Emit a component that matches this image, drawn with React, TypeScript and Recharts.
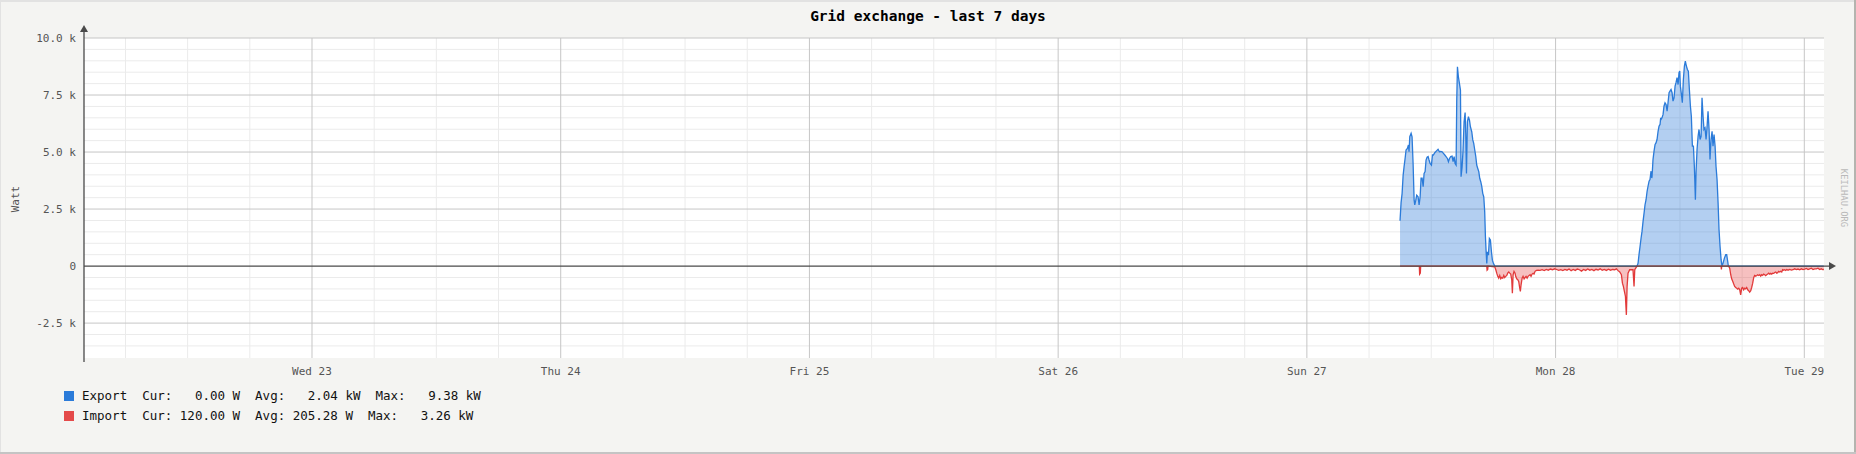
import React from 'react';
import { ComposedChart, Area, XAxis, YAxis, CartesianGrid, ReferenceLine } from 'recharts';

const FONT = '"DejaVu Sans Mono", "Liberation Mono", monospace';
const SUN27 = 120; // hours since Tue 22 00:00
const X_MIN = 2.0;
const X_MAX = 169.9;
const Y_MIN = -4.03;
const Y_MAX = 10;

const dayTicks = [24, 48, 72, 96, 120, 144, 168];
const dayLabels = ['Wed 23', 'Thu 24', 'Fri 25', 'Sat 26', 'Sun 27', 'Mon 28', 'Tue 29'];
const minorHours = [6, 12, 18, 30, 36, 42, 54, 60, 66, 78, 84, 90, 102, 108, 114, 126, 132, 138, 150, 156, 162];
const yTicks = [-2.5, 0, 2.5, 5, 7.5, 10];
const yTickLabels = ['-2.5 k', '0', '2.5 k', '5.0 k', '7.5 k', '10.0 k'];
const yMajorLines = [-2.5, 2.5, 5, 7.5, 10];
const yMinorLines = [-3.5, -3, -2, -1.5, -1, -0.5, 0.5, 1, 1.5, 2, 3, 3.5, 4, 4.5, 5.5, 6, 6.5, 7, 8, 8.5, 9, 9.5];

type Pt = [number, number];

// [hours since Sun 27 00:00, kW]
const exportSunday: Pt[] = [[8.99,1.99],[9.09,2.78],[9.19,3.19],[9.29,3.99],[9.38,4.36],[9.48,4.72],[9.57,5.09],[9.70,5.16],[9.80,5.31],[9.86,5.01],[9.93,5.67],[10.06,5.82],[10.15,5.67],[10.25,4.50],[10.35,2.89],[10.41,2.68],[10.51,2.89],[10.60,3.11],[10.73,3.04],[10.83,2.68],[10.93,3.04],[11.02,3.85],[11.12,3.85],[11.22,3.48],[11.31,4.06],[11.41,4.14],[11.50,4.65],[11.60,4.77],[11.70,4.80],[11.79,4.65],[11.89,4.50],[12.02,4.43],[12.12,4.87],[12.21,4.87],[12.34,4.97],[12.53,5.06],[12.66,5.12],[12.79,5.01],[12.92,5.03],[13.05,5.01],[13.18,4.94],[13.31,4.87],[13.43,4.80],[13.56,4.72],[13.66,4.58],[13.76,4.72],[13.88,4.80],[14.01,4.82],[14.11,4.58],[14.21,4.80],[14.30,4.50],[14.40,4.43],[14.46,7.21],[14.53,8.74],[14.62,8.30],[14.72,8.01],[14.82,7.72],[14.88,3.92],[14.98,4.36],[15.07,5.09],[15.17,6.33],[15.27,6.73],[15.33,5.82],[15.40,4.06],[15.49,6.33],[15.59,6.55],[15.69,6.40],[15.78,6.11],[15.91,5.89],[16.01,5.53],[16.10,5.38],[16.20,5.09],[16.30,4.80],[16.39,4.43],[16.49,4.28],[16.59,4.14],[16.68,3.85],[16.78,3.70],[16.88,3.48],[16.97,3.19],[17.07,3.04],[17.16,2.38],[17.23,1.29],[17.29,0.70],[17.36,0.12],[17.42,0.63],[17.52,0.48],[17.61,1.21],[17.71,1.14],[17.81,0.63],[17.90,0.26],[18.00,0.12],[18.13,0]];

const exportMonday: Pt[] = [[31.86,0],[31.96,0.13],[32.05,0.50],[32.15,0.86],[32.25,1.23],[32.34,1.52],[32.44,1.96],[32.54,2.33],[32.63,2.69],[32.73,2.91],[32.83,3.28],[32.92,3.50],[33.02,3.72],[33.11,3.79],[33.21,4.16],[33.28,3.86],[33.31,3.94],[33.40,4.67],[33.50,5.04],[33.60,5.33],[33.69,5.40],[33.79,5.55],[33.89,5.91],[33.98,6.13],[34.08,6.21],[34.14,6.50],[34.18,6.43],[34.27,6.50],[34.37,6.65],[34.46,7.01],[34.56,7.16],[34.66,7.09],[34.76,6.79],[34.85,7.16],[34.95,7.60],[35.04,7.67],[35.14,7.74],[35.24,7.60],[35.33,7.23],[35.43,7.38],[35.53,7.89],[35.62,8.04],[35.72,8.26],[35.82,7.96],[35.91,8.48],[35.98,8.55],[36.04,7.89],[36.14,7.53],[36.23,7.16],[36.33,8.18],[36.43,8.77],[36.52,8.99],[36.62,8.77],[36.72,8.62],[36.81,8.55],[36.91,7.74],[37.01,7.01],[37.10,6.57],[37.20,5.26],[37.30,5.26],[37.39,4.38],[37.49,2.91],[37.55,4.08],[37.65,5.11],[37.75,5.69],[37.84,5.99],[37.94,5.55],[38.04,5.69],[38.13,7.38],[38.23,6.57],[38.32,5.99],[38.42,6.06],[38.52,5.55],[38.61,6.06],[38.71,6.79],[38.81,5.99],[38.90,4.67],[39.00,5.55],[39.10,5.91],[39.19,5.26],[39.29,5.77],[39.39,5.26],[39.48,4.38],[39.58,3.79],[39.68,2.77],[39.77,1.60],[39.87,0.86],[39.97,0.28],[40.06,0],[40.16,0.13],[40.29,0.35],[40.42,0.50],[40.51,0.50],[40.61,0.20],[40.67,0],[49.88,0]];

const importSunday: Pt[] = [[8.99,0],[10.85,0],[10.88,0.35],[10.95,0.30],[10.98,0],[17.36,0],[17.39,0.18],[17.45,0.15],[17.48,0],[18.13,0.03],[18.23,0.16],[18.32,0.31],[18.42,0.45],[18.51,0.53],[18.61,0.41],[18.71,0.56],[18.80,0.50],[18.90,0.53],[19.00,0.41],[19.09,0.50],[19.19,0.45],[19.29,0.41],[19.38,0.31],[19.48,0.26],[19.58,0.31],[19.67,0.35],[19.77,0.60],[19.83,1.19],[19.90,0.38],[19.99,0.23],[20.09,0.31],[20.15,0.45],[20.25,0.56],[20.35,0.60],[20.44,0.67],[20.54,0.97],[20.60,1.11],[20.67,0.82],[20.77,0.53],[20.86,0.45],[20.96,0.56],[21.06,0.50],[21.15,0.45],[21.25,0.53],[21.34,0.45],[21.44,0.41],[21.54,0.38],[21.63,0.45],[21.73,0.35],[21.83,0.32],[21.92,0.35],[22.02,0.23],[22.15,0.19],[22.31,0.18],[22.5,0.19],[22.7,0.16],[22.9,0.20],[23.1,0.15],[23.3,0.18],[23.5,0.13],[23.7,0.16],[23.9,0.12]];

const importMonday: Pt[] = [[24.1,0.15],[24.3,0.19],[24.5,0.16],[24.7,0.20],[24.9,0.15],[25.1,0.18],[25.3,0.13],[25.5,0.20],[25.7,0.15],[25.9,0.19],[26.1,0.13],[26.3,0.16],[26.5,0.22],[26.7,0.15],[26.9,0.19],[27.1,0.13],[27.3,0.18],[27.5,0.15],[27.7,0.20],[27.9,0.14],[28.1,0.17],[28.3,0.12],[28.5,0.18],[28.7,0.15],[28.9,0.19],[29.1,0.14],[29.3,0.18],[29.5,0.15],[29.7,0.16],[29.87,0.12],[30.03,0.20],[30.19,0.26],[30.35,0.38],[30.45,0.75],[30.54,0.89],[30.64,1.11],[30.74,1.33],[30.83,2.14],[30.90,0.89],[30.99,0.31],[31.15,0.16],[31.31,0.16],[31.47,0.16],[31.57,0.89],[31.64,0.16],[31.73,0.09],[31.86,0],[39.97,0],[40.0,0.15],[40.03,0],[40.70,0],[40.80,0.09],[40.90,0.38],[40.99,0.56],[41.09,0.67],[41.19,0.79],[41.28,0.89],[41.38,0.94],[41.48,0.97],[41.57,1.01],[41.67,0.97],[41.77,1.04],[41.86,1.26],[41.96,0.97],[42.05,0.94],[42.15,1.04],[42.25,0.97],[42.34,1.00],[42.44,0.94],[42.54,1.04],[42.63,1.08],[42.73,1.14],[42.83,1.08],[42.92,0.94],[43.02,0.75],[43.12,0.50],[43.21,0.41],[43.31,0.44],[43.41,0.41],[43.50,0.38],[43.60,0.41],[43.70,0.38],[43.79,0.44],[43.89,0.38],[43.98,0.41],[44.08,0.35],[44.18,0.38],[44.27,0.42],[44.37,0.38],[44.47,0.35],[44.56,0.31],[44.66,0.35],[44.76,0.32],[44.85,0.35],[44.95,0.31],[45.05,0.32],[45.14,0.28],[45.24,0.26],[45.34,0.31],[45.43,0.29],[45.53,0.23],[45.62,0.26],[45.72,0.23],[45.82,0.26],[45.91,0.16],[46.01,0.18],[46.11,0.16],[46.20,0.19],[46.30,0.15],[46.43,0.18],[46.59,0.15],[46.75,0.18],[46.91,0.16],[47.07,0.12],[47.23,0.15],[47.39,0.13],[47.55,0.16],[47.72,0.12],[47.88,0.15],[48.04,0.13],[48.20,0.10],[48.36,0.15],[48.52,0.12],[48.68,0.09],[48.84,0.15],[49.00,0.12],[49.16,0.12],[49.32,0.09],[49.48,0.15],[49.64,0.12],[49.81,0.16],[49.88,0.12]];

const legendRows = [
  { color: '#2b7bd9', text: 'Export  Cur:   0.00 W  Avg:   2.04 kW  Max:   9.38 kW' },
  { color: '#e44a4a', text: 'Import  Cur: 120.00 W  Avg: 205.28 W  Max:   3.26 kW' },
];

const EXP_COLOR = '#2b7bd9';
const IMP_COLOR = '#e23a3a';
const AXIS = '#4a4a4a';

type Row = { t: number; exp?: number; imp?: number };

function buildRows(): Row[] {
  const map = new Map<number, Row>();
  const put = (pts: Pt[], key: 'exp' | 'imp', sign: number) => {
    pts.forEach(([h, v]) => {
      const t = Math.round((SUN27 + h) * 1000) / 1000;
      const row = map.get(t) ?? { t };
      row[key] = sign * v;
      map.set(t, row);
    });
  };
  put(exportSunday, 'exp', 1);
  put(exportMonday, 'exp', 1);
  put(importSunday, 'imp', -1);
  put(importMonday, 'imp', -1);
  return Array.from(map.values()).sort((a, b) => a.t - b.t);
}

const rows = buildRows();

const ZeroAxisShape = (p: any) => {
  const y = p.y1;
  const xs = Math.min(p.x1, p.x2);
  const xe = Math.max(p.x1, p.x2);
  return (
    <g>
      <line x1={xs} y1={y} x2={xe + 6} y2={y} stroke={AXIS} strokeWidth={1.3} />
      <polygon points={`${xe + 5},${y - 4} ${xe + 12},${y} ${xe + 5},${y + 4}`} fill={AXIS} />
    </g>
  );
};

const YAxisShape = (p: any) => {
  const x = p.x1;
  const yt = Math.min(p.y1, p.y2);
  const yb = Math.max(p.y1, p.y2);
  return (
    <g>
      <line x1={x} y1={yb + 4} x2={x} y2={yt - 7} stroke={AXIS} strokeWidth={1.3} />
      <polygon points={`${x - 4},${yt - 6} ${x},${yt - 13} ${x + 4},${yt - 6}`} fill={AXIS} />
    </g>
  );
};

const tickStyle = { fontFamily: FONT, fontSize: 11, fill: '#555555' };

export default function App() {
  return (
    <div style={{ position: 'absolute', left: 0, top: 0, width: 1856, height: 454, background: '#f4f4f2', overflow: 'hidden', fontFamily: FONT }}>
      <ComposedChart width={1856} height={454} data={rows} margin={{ top: 38, right: 32, bottom: 66, left: 0 }}>
        <CartesianGrid fill="#ffffff" stroke="#ebebeb" strokeWidth={1} horizontalValues={yMinorLines} verticalValues={minorHours} />
        <CartesianGrid stroke="#c6c6c6" strokeWidth={1} horizontalValues={yMajorLines} verticalValues={dayTicks} />
        <XAxis
          type="number"
          dataKey="t"
          domain={[X_MIN, X_MAX]}
          allowDataOverflow
          ticks={dayTicks}
          interval={0}
          tickFormatter={(v: number) => dayLabels[dayTicks.indexOf(v)] ?? ''}
          axisLine={false}
          tickLine={false}
          tickSize={0}
          tickMargin={9}
          height={30}
          tick={tickStyle}
        />
        <YAxis
          type="number"
          domain={[Y_MIN, Y_MAX]}
          allowDataOverflow
          ticks={yTicks}
          interval={0}
          tickFormatter={(v: number) => yTickLabels[yTicks.indexOf(v)] ?? ''}
          width={84}
          axisLine={false}
          tickLine={false}
          tickSize={0}
          tickMargin={8}
          tick={tickStyle}
        />
        <Area type="linear" dataKey="exp" stroke={EXP_COLOR} strokeWidth={1.3} fill={EXP_COLOR} fillOpacity={0.36} connectNulls baseValue={0} dot={false} activeDot={false} isAnimationActive={false} />
        <Area type="linear" dataKey="imp" stroke={IMP_COLOR} strokeWidth={1.3} fill={IMP_COLOR} fillOpacity={0.32} connectNulls baseValue={0} dot={false} activeDot={false} isAnimationActive={false} />
        <ReferenceLine y={0} ifOverflow="visible" shape={ZeroAxisShape} />
        <ReferenceLine x={X_MIN} ifOverflow="visible" shape={YAxisShape} />
      </ComposedChart>

      <div style={{ position: 'absolute', left: 0, top: 7, width: 1856, textAlign: 'center', fontSize: 14.5, lineHeight: '18px', fontWeight: 'bold', color: '#000', whiteSpace: 'pre' }}>
        Grid exchange - last 7 days
      </div>

      <div style={{ position: 'absolute', left: 15, top: 199, transform: 'translate(-50%, -50%) rotate(-90deg)', fontSize: 11, color: '#555', whiteSpace: 'pre', lineHeight: '13px' }}>
        Watt
      </div>

      <div style={{ position: 'absolute', left: 1844, top: 198, transform: 'translate(-50%, -50%) rotate(90deg)', fontSize: 8.8, color: '#b9b9b9', whiteSpace: 'pre', lineHeight: '10px' }}>
        KEILHAU.ORG
      </div>

      {legendRows.map((r, i) => (
        <React.Fragment key={i}>
          <div style={{ position: 'absolute', left: 64, top: 391 + i * 20, width: 10, height: 10, background: r.color }} />
          <div style={{ position: 'absolute', left: 82, top: 389 + i * 20, fontSize: 12.5, lineHeight: '14px', color: '#111', whiteSpace: 'pre' }}>
            {r.text}
          </div>
        </React.Fragment>
      ))}

      <div style={{ position: 'absolute', left: 0, top: 0, width: 1856, height: 2, background: '#e2e2e2' }} />
      <div style={{ position: 'absolute', left: 0, top: 0, width: 1, height: 454, background: '#e2e2e2' }} />
      <div style={{ position: 'absolute', right: 0, top: 0, width: 2, height: 454, background: '#b4b4af' }} />
      <div style={{ position: 'absolute', left: 0, bottom: 0, width: 1856, height: 2, background: '#c4c4c4' }} />
    </div>
  );
}
